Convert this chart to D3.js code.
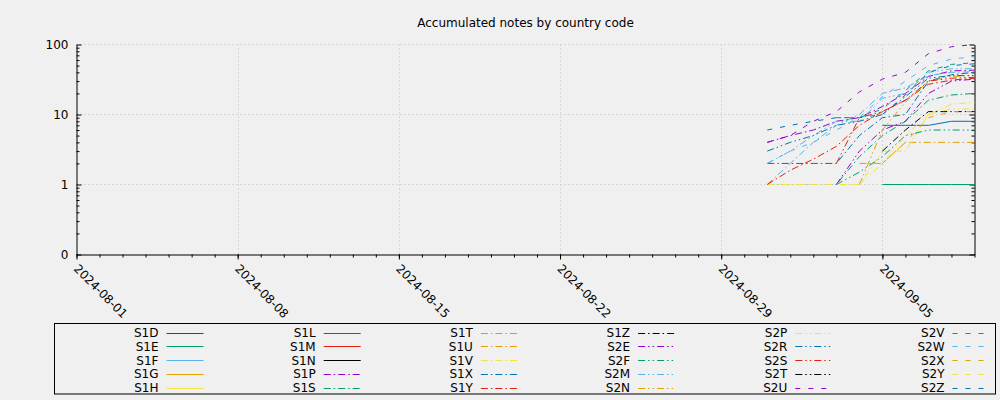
<!DOCTYPE html>
<html><head><meta charset="utf-8">
<script src="https://cdn.jsdelivr.net/npm/d3@7"></script>
<style>
body{margin:0;background:#f0f0f0;}
svg{display:block;}
text{font-family:"DejaVu Sans",sans-serif;fill:#000;}
</style>
</head><body>
<svg id="c" width="1000" height="400"></svg>
<script>
// ---- data ----
const chartTitle = "Accumulated notes by country code";
const dates = ["2024-08-31","2024-09-01","2024-09-02","2024-09-03","2024-09-04","2024-09-05","2024-09-06","2024-09-07","2024-09-08","2024-09-09"];
const xTickLabels = ["2024-08-01","2024-08-08","2024-08-15","2024-08-22","2024-08-29","2024-09-05"];
const yTickValues = [0.1, 1, 10, 100];
const yTickLabels = ["0", "1", "10", "100"];
const seriesNames = ["S1D","S1E","S1F","S1G","S1H","S1L","S1M","S1N","S1P","S1S","S1T","S1U","S1V","S1X","S1Y","S1Z","S2E","S2F","S2M","S2N","S2P","S2R","S2S","S2T","S2U","S2V","S2W","S2X","S2Y","S2Z"];
const n = null;
const S1D = [n,n,n,n,n,n,n,n,n,n];
const S1E = [n,n,n,n,n,1,1,1,1,1];
const S1F = [n,n,n,n,n,n,n,n,n,n];
const S1G = [n,n,n,n,n,n,n,n,n,n];
const S1H = [n,n,n,n,n,n,n,n,n,n];
const S1L = [n,n,n,n,n,7,7,7,8,8];
const S1M = [n,n,n,n,n,n,n,n,n,n];
const S1N = [n,n,n,n,n,n,n,n,n,n];
const S1P = [4,5,6,8,9,13,20,35,42,43];
const S1S = [1,1,1,1,2.5,5,8,16,19,20];
const S1T = [1,2,4,7,10,20,24,36,40,41];
const S1U = [n,n,n,n,2,2,4,4,4,4];
const S1V = [1,1,1,1,1,3,3,10,14,15];
const S1X = [2,2,2,2,5,9,10,30,37,40];
const S1Y = [1,1.6,2.3,3.5,7,11,16,27,31,33];
const S1Z = [n,n,n,n,n,3,6,11,11,11];
const S2E = [n,n,n,1,3,6,8,20,30,32];
const S2F = [n,n,n,1,1.5,2.5,5,6,6,6];
const S2M = [2,3,5,8,8,17,20,40,45,45];
const S2N = [n,n,n,n,1,6,15,30,35,36];
const S2P = [n,n,n,n,1,2,5,10,12,12];
const S2R = [3,4,5,7,8,10,18,33,36,36];
const S2S = [n,n,n,2,9,11,16,30,33,34];
const S2T = [n,n,n,n,n,n,n,n,n,n];
const S2U = [4,5,8,11,21,32,40,74,93,100];
const S2V = [n,n,n,9,9,12,22,42,52,55];
const S2W = [2,3,4,6,9,18,30,50,62,67];
const S2X = [n,n,n,n,n,2,4,9,11,11];
const S2Y = [n,n,n,n,n,n,n,n,n,n];
const S2Z = [6,7,8,9,9,10,19,40,50,53];
const seriesValues = [S1D,S1E,S1F,S1G,S1H,S1L,S1M,S1N,S1P,S1S,S1T,S1U,S1V,S1X,S1Y,S1Z,S2E,S2F,S2M,S2N,S2P,S2R,S2S,S2T,S2U,S2V,S2W,S2X,S2Y,S2Z];
const palette = ["#9400d3","#009e73","#56b4e9","#e69f00","#f0e442","#0072b2","#e51e10","#000000"];
const dashStyles = [null, "7,3,1.5,3", "7,3,1.5,3,1.5,3", "5,8"];

// ---- drawing ----
const svg = d3.select("#c");
const parse = d3.utcParse("%Y-%m-%d");
const L = 76.5, R = 974.5, T = 44.5, B = 254.5;
const x = d3.scaleUtc().domain([parse("2024-08-01"), parse("2024-09-09")]).range([L, R]);
const y = d3.scaleLog().domain([0.1, 100]).range([B, T]);

svg.append("text").attr("x", 525.5).attr("y", 27).attr("text-anchor", "middle")
  .style("font-size", "12px").text(chartTitle);

// grid
const grid = svg.append("g").attr("stroke", "#bfbfbf").attr("stroke-dasharray", "1,3").attr("fill", "none");
xTickLabels.slice(1).forEach(d => {
  grid.append("line").attr("x1", Math.round(x(parse(d))) + 0.5).attr("x2", Math.round(x(parse(d))) + 0.5).attr("y1", T).attr("y2", B);
});
yTickValues.slice(1).forEach(v => {
  grid.append("line").attr("x1", L).attr("x2", R).attr("y1", Math.round(y(v) - 0.5) + 0.5).attr("y2", Math.round(y(v) - 0.5) + 0.5);
});

// minor log ticks
const minorY = [];
[0.1, 1, 10].forEach(b => { for (let k = 2; k <= 9; k++) minorY.push(b * k); });

function styleAxis(g) {
  g.selectAll("path,line").attr("stroke", "#000");
  g.selectAll("text").style("font-size", "12px").style("font-family", "DejaVu Sans").attr("fill", "#000");
}

svg.append("g").attr("transform", `translate(${L},0)`)
  .call(d3.axisLeft(y).tickValues(minorY).tickFormat("").tickSize(-3).tickSizeOuter(0))
  .call(g => g.select(".domain").remove()).call(styleAxis);
svg.append("g").attr("transform", `translate(${L},0)`)
  .call(d3.axisLeft(y).tickValues(yTickValues).tickFormat((d, i) => yTickLabels[i]).tickSize(-5).tickSizeOuter(0).tickPadding(8))
  .call(styleAxis);
svg.append("g").attr("transform", `translate(${R},0)`)
  .call(d3.axisRight(y).tickValues(minorY).tickFormat("").tickSize(-3).tickSizeOuter(0))
  .call(g => g.select(".domain").remove()).call(styleAxis);
svg.append("g").attr("transform", `translate(${R},0)`)
  .call(d3.axisRight(y).tickValues(yTickValues).tickFormat("").tickSize(-5).tickSizeOuter(0))
  .call(styleAxis);

const allDays = d3.utcDay.range(parse("2024-08-01"), d3.utcDay.offset(parse("2024-09-09"), 1));
svg.append("g").attr("transform", `translate(0,${B})`)
  .call(d3.axisBottom(x).tickValues(allDays).tickFormat("").tickSize(3).tickSizeOuter(0))
  .call(g => g.select(".domain").remove()).call(styleAxis);
svg.append("g").attr("transform", `translate(0,${B})`)
  .call(d3.axisBottom(x).tickValues(xTickLabels.map(parse)).tickFormat(d3.utcFormat("%Y-%m-%d")).tickSize(5).tickSizeOuter(0))
  .call(styleAxis)
  .call(g => g.selectAll(".tick text").attr("x", 0).attr("y", 0).attr("dy", 0)
    .attr("text-anchor", "start").attr("transform", "translate(-4,15) rotate(45)"));

// series
const line = d3.line().defined(d => d.v != null).x(d => x(d.date)).y(d => y(d.v));
const lines = svg.append("g").attr("fill", "none");
seriesValues.forEach((vals, i) => {
  const data = vals.map((v, j) => ({ date: parse(dates[j]), v }));
  const p = lines.append("path").attr("d", line(data))
    .attr("stroke", palette[i % 8]).attr("stroke-width", 1);
  const ds = dashStyles[Math.floor(i / 8)];
  if (ds) p.attr("stroke-dasharray", ds);
});

// legend
svg.append("rect").attr("x", 54.5).attr("y", 323.5).attr("width", 941).attr("height", 70.5)
  .attr("fill", "none").attr("stroke", "#000");
const leg = svg.append("g");
seriesNames.forEach((name, i) => {
  const col = Math.floor(i / 5), row = i % 5;
  const tx = 158.5 + 157.2 * col, cy = 332.5 + 13.85 * row;
  leg.append("text").attr("x", tx).attr("y", cy + 4.3).attr("text-anchor", "end")
    .style("font-size", "12px").text(name);
  const l = leg.append("line").attr("x1", tx + 8).attr("x2", tx + 45)
    .attr("y1", Math.round(cy) + 0.5).attr("y2", Math.round(cy) + 0.5)
    .attr("stroke", palette[i % 8]).attr("stroke-width", 1);
  const ds = dashStyles[Math.floor(i / 8)];
  if (ds) l.attr("stroke-dasharray", ds);
});
</script>
</body></html>
